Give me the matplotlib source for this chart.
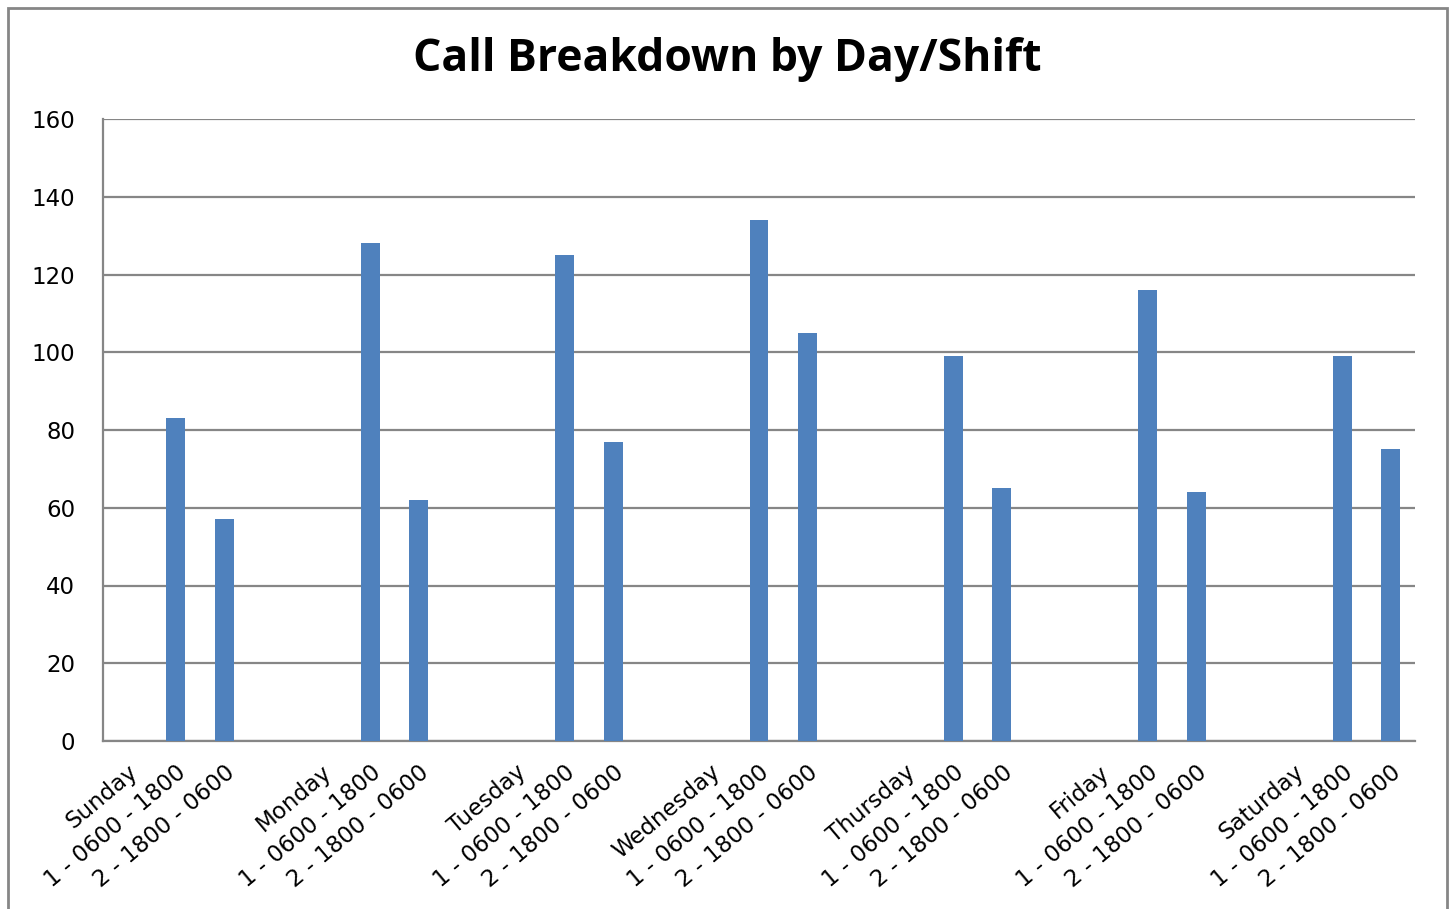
import matplotlib.pyplot as plt
import numpy as np
from matplotlib.patches import Rectangle

# categories as laid out on the x axis (blank slot between days)
days = ['Sunday', 'Monday', 'Tuesday', 'Wednesday', 'Thursday', 'Friday', 'Saturday']
shift_labels = ['1 - 0600 - 1800', '2 - 1800 - 0600']
shift1_calls = [83, 128, 125, 134, 99, 116, 99]
shift2_calls = [57, 62, 77, 105, 65, 64, 75]

labels = []
values = []
for i, day in enumerate(days):
    labels += [day, shift_labels[0], shift_labels[1]]
    values += [0, shift1_calls[i], shift2_calls[i]]
    if i < len(days) - 1:
        labels.append('')
        values.append(0)

x = np.arange(len(labels))

plt.rcParams['font.family'] = ['DejaVu Sans']

fig = plt.figure(figsize=(14.54, 9.09), dpi=100)
ax = fig.add_axes([103 / 1454, 1 - 741 / 909, 1312 / 1454, 622 / 909])

ax.bar(x, values, width=0.39, color='#4f81bd', zorder=3)

ax.set_xlim(-0.5, len(labels) - 0.5)
ax.set_ylim(0, 160)
ax.set_yticks(np.arange(0, 161, 20))
ax.yaxis.grid(True, color='#868686', linewidth=1.6, zorder=0)
ax.set_xticks(x)
ax.set_xticklabels(labels, rotation=40, ha='right', rotation_mode='anchor', fontsize=16.5)
ax.tick_params(axis='y', length=0, pad=20, labelsize=16.5)
ax.tick_params(axis='x', length=0, pad=14)

for s in ['top', 'right']:
    ax.spines[s].set_visible(False)
for s in ['left', 'bottom']:
    ax.spines[s].set_color('#868686')
    ax.spines[s].set_linewidth(1.6)

fig.text(0.5, 1 - 60 / 909, 'Call Breakdown by Day/Shift', ha='center', va='center',
         fontsize=32, fontweight='bold', family='Open Sans')

# chart frame
fig.patches.append(Rectangle((8 / 1454, -0.01), 1439 / 1454, 1 - 8 / 909 + 0.01,
                             transform=fig.transFigure, fill=False,
                             edgecolor='#868686', linewidth=2))

fig.savefig('out.png', dpi=100)
